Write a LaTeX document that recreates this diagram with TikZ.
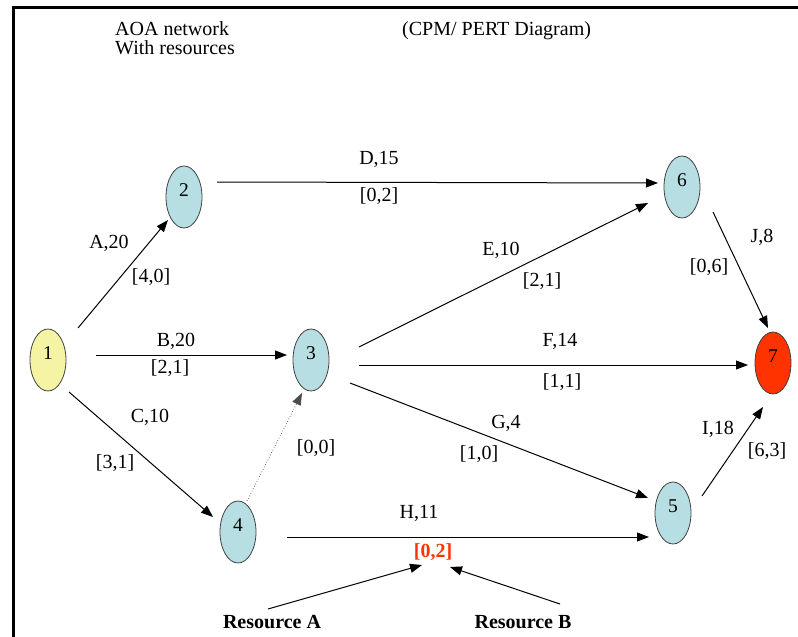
\documentclass[tikz,border=0pt]{standalone}
\usepackage{fontspec}
\setmainfont{Liberation Serif}
\usetikzlibrary{arrows.meta,shapes.geometric}
\definecolor{nodeblue}{HTML}{B7DEE2}
\definecolor{nodeyellow}{HTML}{F4F4A4}
\definecolor{nodered}{HTML}{FF3300}
\definecolor{redlabel}{HTML}{FF3300}
\begin{document}
\begin{tikzpicture}[x=1pt,y=-1pt,
  event/.style={ellipse,draw=black!75,line width=0.8pt,fill=nodeblue,minimum width=36pt,minimum height=62pt,inner sep=0pt,font=\fontsize{19.5}{22}\selectfont},
  lab/.style={font=\fontsize{20}{22}\selectfont,inner sep=0pt},
  boldlab/.style={font=\fontsize{20}{22}\selectfont\bfseries,inner sep=0pt},
  arr/.style={-{Triangle[length=12pt,width=9pt]},line width=1pt},
]
\useasboundingbox (0,0) rectangle (798,637);
\draw[line width=3pt] (13,637) -- (13,7) -- (798,7);

% titles
\node[lab,anchor=base west] (t1) at (115,35) {AOA network};
\node[lab,anchor=base west] (t2) at (115,54) {With resources};
\node[lab,anchor=base west] (t3) at (402,35) {(CPM/ PERT Diagram)};

% events
\node[event,fill=nodeyellow] (n1) at (48,360) {\raisebox{0.5pt}[0pt][0pt]{1}};
\node[event] (n2) at (184,197) {\raisebox{0.5pt}[0pt][0pt]{2}};
\node[event] (n3) at (311,360) {\raisebox{0.5pt}[0pt][0pt]{3}};
\node[event] (n4) at (238,532) {\raisebox{0.5pt}[0pt][0pt]{4}};
\node[event] (n5) at (673,513) {\raisebox{0.5pt}[0pt][0pt]{5}};
\node[event] (n6) at (682,187) {\raisebox{0.5pt}[0pt][0pt]{6}};
\node[event,fill=nodered] (n7) at (773,363) {\raisebox{0.5pt}[0pt][0pt]{7}};

% activities
\draw[arr] ([shift={(30,-32)}]n1.center) -- ([shift={(-16,23)}]n2.center);
\draw[arr] ([shift={(48,-5)}]n1.center) -- ([shift={(-24,-5)}]n3.center);
\draw[arr] ([shift={(21,32)}]n1.center) -- ([shift={(-25,-15)}]n4.center);
\draw[arr] ([shift={(33,-15)}]n2.center) -- ([shift={(-24,-4)}]n6.center);
\draw[-{Triangle[length=12pt,width=9pt]},line width=0.7pt,dotted,black!70] ([shift={(9,-31)}]n4.center) -- ([shift={(-9,33)}]n3.center);
\draw[arr] ([shift={(48,-13)}]n3.center) -- ([shift={(-34,16)}]n6.center);
\draw[arr] ([shift={(48,5)}]n3.center) -- ([shift={(-25,2)}]n7.center);
\draw[arr] ([shift={(39,23)}]n3.center) -- ([shift={(-25,-15)}]n5.center);
\draw[arr] ([shift={(49,5)}]n4.center) -- ([shift={(-24,24)}]n5.center);
\draw[arr] ([shift={(29,-17)}]n5.center) -- ([shift={(-10,44)}]n7.center);
\draw[arr] ([shift={(31,25)}]n6.center) -- ([shift={(-5,-35)}]n7.center);

% labels
\node[lab] (lA) at (109,243) {A,20};
\node[lab] (rA) at (151,277) {[4,0]};
\node[lab] (lD) at (379,159) {D,15};
\node[lab] (rD) at (379,196) {[0,2]};
\node[lab] (lB) at (176,341) {B,20};
\node[lab] (rB) at (170,368) {[2,1]};
\node[lab] (lE) at (501,250) {E,10};
\node[lab] (rE) at (542,281) {[2,1]};
\node[lab] (lJ) at (762,237) {J,8};
\node[lab] (rJ) at (709,267) {[0,6]};
\node[lab] (lF) at (560,341) {F,14};
\node[lab] (rF) at (562,382) {[1,1]};
\node[lab] (lC) at (150,417) {C,10};
\node[lab] (rC) at (115,463) {[3,1]};
\node[lab] (rX) at (316,448) {[0,0]};
\node[lab] (lG) at (506,423) {G,4};
\node[lab] (rG) at (479,454) {[1,0]};
\node[lab] (lI) at (718,429) {I,18};
\node[lab] (rI) at (767,451) {[6,3]};
\node[lab] (lH) at (419,513) {H,11};
\node[boldlab,text=redlabel] (rH) at (433,552) {[0,2]};

% resources
\node[boldlab] (resA) at (272,622) {Resource A};
\node[boldlab] (resB) at (523,622) {Resource B};
\draw[arr] ([shift={(-4,-13)}]resA.center) -- ([shift={(-11,13)}]rH.center);
\draw[arr] ([shift={(37,-18)}]resB.center) -- ([shift={(17,15)}]rH.center);
\end{tikzpicture}
\end{document}
